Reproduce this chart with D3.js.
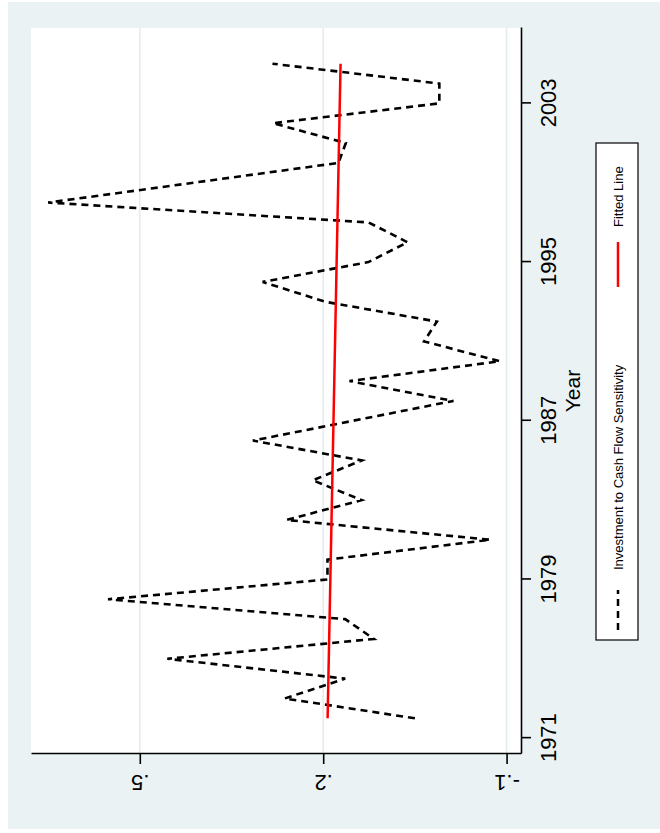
<!DOCTYPE html>
<html>
<head>
<meta charset="utf-8">
<script src="https://cdn.jsdelivr.net/npm/d3@7"></script>
<style>
  html, body { margin: 0; padding: 0; background: #ffffff; }
  svg { display: block; }
  text { font-family: "Liberation Sans", Arial, Helvetica, sans-serif; fill: #000; }
</style>
</head>
<body>
<script>
// Yearly investment to cash flow sensitivity, 1972-2005
const years = [1972, 1973, 1974, 1975, 1976, 1977, 1978, 1979, 1980, 1981,
               1982, 1983, 1984, 1985, 1986, 1987, 1988, 1989, 1990, 1991,
               1992, 1993, 1994, 1995, 1996, 1997, 1998, 1999, 2000, 2001,
               2002, 2003, 2004, 2005];
const sensitivity = [0.050, 0.263, 0.164, 0.455, 0.117, 0.164, 0.552, 0.193, 0.193, -0.073,
                     0.260, 0.137, 0.217, 0.137, 0.315, 0.151, -0.013, 0.157, -0.089, 0.035,
                     0.014, 0.197, 0.299, 0.126, 0.062, 0.126, 0.650, 0.412, 0.175, 0.163,
                     0.282, 0.010, 0.010, 0.283];

// Axis ticks and labels
const yearTicks = [1971, 1979, 1987, 1995, 2003];
const valueTicks = [-0.1, 0.2, 0.5];
const valueTickLabels = ["-.1", ".2", ".5"];
const axisTitle = "Year";
const seriesNames = ["Investment to Cash Flow Sensitivity", "Fitted Line"];

// The graph is laid out landscape (833 x 660) and turned a quarter turn
// counter-clockwise to sit on the portrait page.
const W = 833, H = 660;
const plot = { left: 79, right: 805, top: 31, bottom: 521 };
const bg = "#eaf2f3";

const svg = d3.select("body").append("svg")
  .attr("width", 660).attr("height", 833);

const g = svg.append("g")
  .attr("transform", `translate(0,${W}) rotate(-90)`);

// Graph background and white plot region
g.append("rect")
  .attr("x", 4).attr("y", 8).attr("width", 827).attr("height", 652)
  .attr("fill", bg);
g.append("rect")
  .attr("x", plot.left).attr("y", plot.top)
  .attr("width", plot.right - plot.left).attr("height", plot.bottom - plot.top)
  .attr("fill", "#ffffff");

const x = d3.scaleLinear().domain([1970.2, 2006.8]).range([plot.left, plot.right]);
const y = d3.scaleLinear().domain([-0.1236, 0.678]).range([plot.bottom, plot.top]);

// Horizontal grid lines at the value ticks
g.append("g").selectAll("line").data(valueTicks).join("line")
  .attr("x1", plot.left).attr("x2", plot.right)
  .attr("y1", d => y(d)).attr("y2", d => y(d))
  .attr("stroke", "#e3ecee").attr("stroke-width", 1.6);

// Least-squares fit of sensitivity on year
const n = years.length;
const mx = d3.mean(years), my = d3.mean(sensitivity);
let sxy = 0, sxx = 0;
for (let i = 0; i < n; i++) {
  sxy += (years[i] - mx) * (sensitivity[i] - my);
  sxx += (years[i] - mx) * (years[i] - mx);
}
const slope = sxy / sxx, intercept = my - slope * mx;
const fitted = years.map(t => intercept + slope * t);

const line = d3.line().x(d => x(d[0])).y(d => y(d[1]));

// Series line (dashed)
g.append("path")
  .datum(years.map((t, i) => [t, sensitivity[i]]))
  .attr("d", line)
  .attr("fill", "none")
  .attr("stroke", "#000")
  .attr("stroke-width", 2.6)
  .attr("stroke-dasharray", "7,5");

// Fitted line
g.append("path")
  .datum(years.map((t, i) => [t, fitted[i]]))
  .attr("d", line)
  .attr("fill", "none")
  .attr("stroke", "#ff0000")
  .attr("stroke-width", 2.5);

// Year axis
const xAxis = g.append("g")
  .attr("transform", `translate(0,${plot.bottom})`)
  .call(d3.axisBottom(x).tickValues(yearTicks).tickFormat(d3.format("d"))
        .tickSize(10).tickSizeOuter(0).tickPadding(9));
xAxis.select(".domain").attr("stroke", "#000").attr("stroke-width", 1.6);
xAxis.selectAll(".tick line").attr("stroke", "#000").attr("stroke-width", 1.6);
xAxis.selectAll("text").attr("font-size", 22).attr("fill", "#000")
  .style("font-family", '"Liberation Sans", Arial, sans-serif');

// Value axis, labels written vertically
const yAxis = g.append("g")
  .attr("transform", `translate(${plot.left},0)`)
  .call(d3.axisLeft(y).tickValues(valueTicks)
        .tickFormat((d, i) => valueTickLabels[i])
        .tickSize(10).tickSizeOuter(0));
yAxis.select(".domain").attr("stroke", "#000").attr("stroke-width", 1.6);
yAxis.selectAll(".tick line").attr("stroke", "#000").attr("stroke-width", 1.6);
yAxis.selectAll("text")
  .attr("x", null).attr("dy", null)
  .attr("text-anchor", "middle")
  .attr("transform", "translate(-21,0) rotate(-90)")
  .attr("font-size", 22).attr("fill", "#000")
  .style("font-family", '"Liberation Sans", Arial, sans-serif');

// Axis title
g.append("text")
  .attr("x", (plot.left + plot.right) / 2).attr("y", 580)
  .attr("text-anchor", "middle")
  .attr("font-size", 21)
  .text(axisTitle);

// Legend
const leg = g.append("g").attr("transform", "translate(193,596)");
leg.append("rect")
  .attr("width", 497).attr("height", 42)
  .attr("fill", "#fff").attr("stroke", "#000").attr("stroke-width", 1.2);
const keys = [
  { x0: 10, x1: 50, tx: 70, stroke: "#000", dash: "7,5" },
  { x0: 353, x1: 398, tx: 413, stroke: "#ff0000", dash: null }
];
keys.forEach((k, i) => {
  leg.append("line")
    .attr("x1", k.x0).attr("x2", k.x1).attr("y1", 22).attr("y2", 22)
    .attr("stroke", k.stroke).attr("stroke-width", 2.5)
    .attr("stroke-dasharray", k.dash);
  leg.append("text")
    .attr("x", k.tx).attr("y", 26.5)
    .attr("font-size", 13)
    .text(seriesNames[i]);
});
</script>
</body>
</html>
